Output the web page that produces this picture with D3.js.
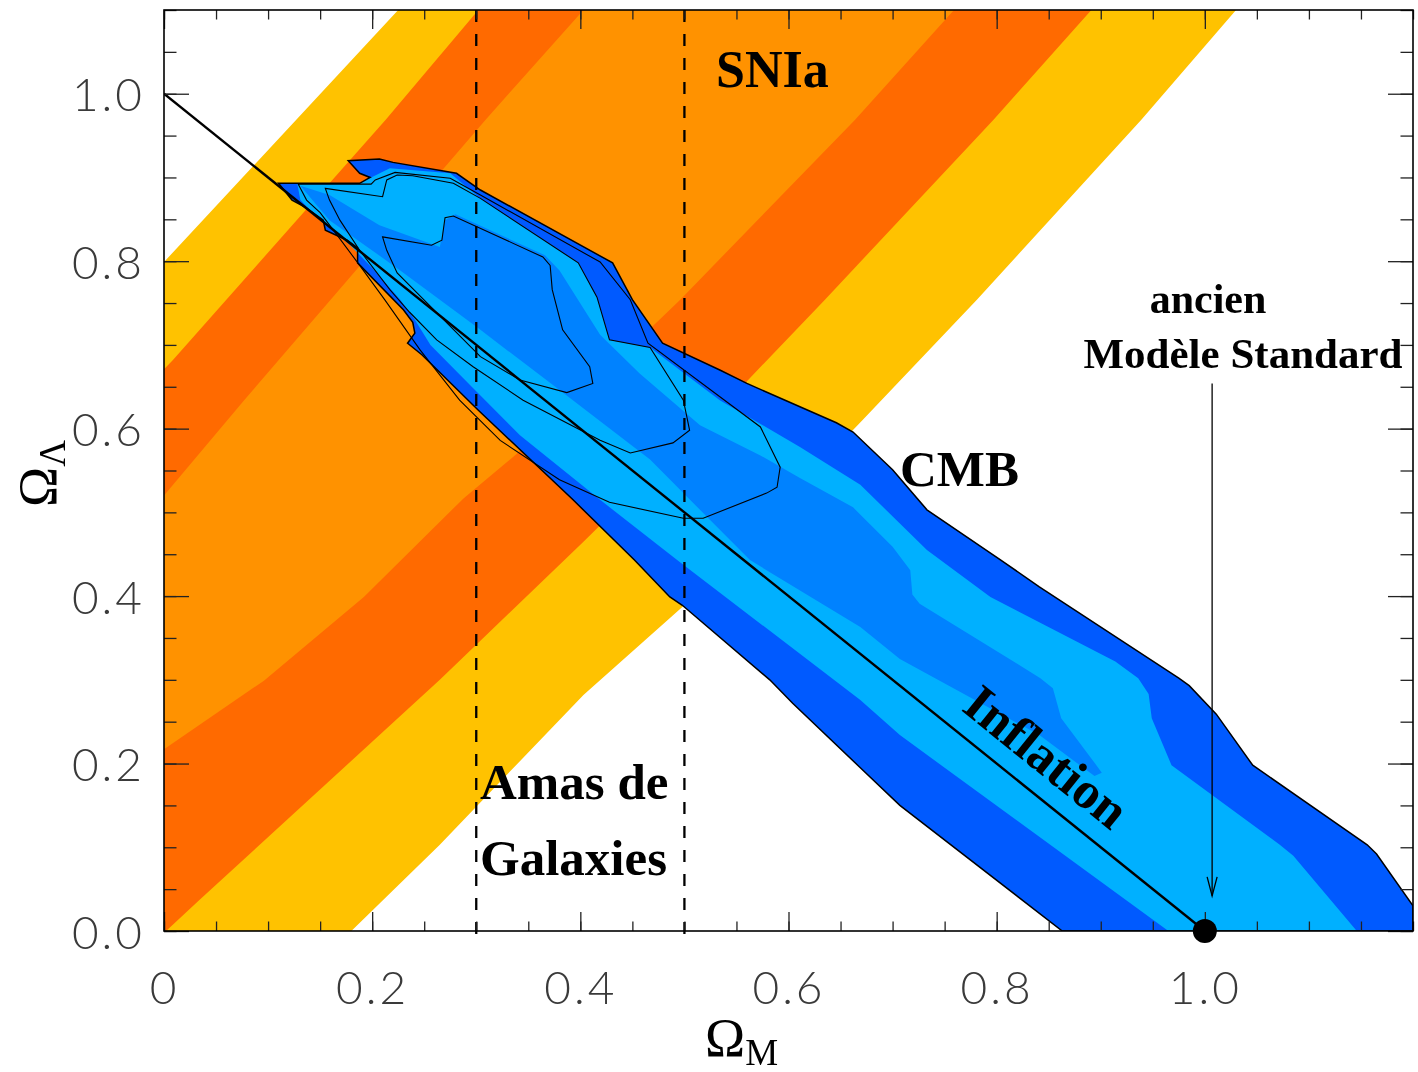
<!DOCTYPE html>
<html><head><meta charset="utf-8">
<script src="https://cdn.jsdelivr.net/npm/d3@7"></script>
<style>body{margin:0;background:#fff}svg{display:block}.lbl{will-change:transform}</style>
</head><body>
<svg id="c" width="1418" height="1072"></svg>
<script>
// ---- ticks ----
const xTicks = [0, 0.2, 0.4, 0.6, 0.8, 1.0];
const xTickLabels = ["0", "0.2", "0.4", "0.6", "0.8", "1.0"];
const yTicks = [0, 0.2, 0.4, 0.6, 0.8, 1.0];
const yTickLabels = ["0.0", "0.2", "0.4", "0.6", "0.8", "1.0"];
const xMinor = d3.range(0, 1.2001, 0.05);
const yMinor = d3.range(0, 1.1001, 0.05);

// ---- SNIa band boundaries (Omega_M, Omega_Lambda) ----
const snB1 = [[0,0.799],[0.225,1.1]];
const snB2 = [[0,0.671],[0.0086,0.682],[0.213,0.969],[0.302,1.1]];
const snB3 = [[0,0.520],[0.077,0.634],[0.309,0.969],[0.403,1.1]];
const snB4 = [[0,0.217],[0.096,0.299],[0.192,0.399],[0.288,0.517],[0.339,0.570],[0.476,0.730],[0.496,0.754],[0.664,0.969],[0.759,1.1]];
const snB5 = [[0.002,0],[0.034,0.037],[0.265,0.300],[0.301,0.343],[0.403,0.465],[0.558,0.654],[0.635,0.754],[0.797,0.969],[0.891,1.1]];
const snB6 = [[0.180,0],[0.265,0.103],[0.403,0.282],[0.498,0.387],[0.671,0.610],[0.781,0.754],[0.939,0.969],[1.030,1.1]];

// ---- CMB filled contours ----
const cmbOuter = [[0.110,0.893],[0.188,0.893],[0.198,0.900],[0.188,0.905],[0.177,0.920],[0.207,0.922],[0.220,0.918],[0.281,0.905],[0.304,0.885],[0.431,0.798],[0.450,0.754],[0.479,0.702],[0.534,0.670],[0.560,0.654],[0.646,0.607],[0.662,0.596],[0.700,0.551],[0.733,0.503],[0.804,0.443],[0.841,0.411],[0.975,0.302],[0.985,0.293],[1.011,0.259],[1.046,0.198],[1.156,0.103],[1.165,0.092],[1.2,0.030],[1.2,0],[0.863,0],[0.707,0.150],[0.669,0.195],[0.604,0.272],[0.582,0.300],[0.498,0.389],[0.486,0.399],[0.452,0.443],[0.393,0.515],[0.302,0.622],[0.248,0.688],[0.234,0.702],[0.241,0.714],[0.239,0.727],[0.230,0.742],[0.186,0.798],[0.186,0.816],[0.176,0.825],[0.155,0.837],[0.153,0.849],[0.135,0.865],[0.123,0.873]];
const cmbMiddle = [[0.128,0.893],[0.188,0.893],[0.199,0.900],[0.217,0.911],[0.275,0.905],[0.304,0.875],[0.398,0.798],[0.416,0.757],[0.428,0.706],[0.467,0.697],[0.534,0.634],[0.611,0.578],[0.669,0.533],[0.733,0.455],[0.794,0.399],[0.914,0.322],[0.936,0.302],[0.946,0.283],[0.949,0.254],[0.968,0.198],[1.072,0.103],[1.085,0.090],[1.146,0],[0.965,0],[0.707,0.234],[0.669,0.276],[0.493,0.443],[0.419,0.515],[0.342,0.592],[0.294,0.652],[0.256,0.700],[0.241,0.730],[0.227,0.754],[0.200,0.792],[0.179,0.819],[0.150,0.849],[0.131,0.873]];
const cmbInner = [[0.131,0.890],[0.159,0.879],[0.207,0.843],[0.265,0.817],[0.270,0.849],[0.280,0.856],[0.366,0.807],[0.380,0.789],[0.419,0.712],[0.457,0.666],[0.515,0.604],[0.573,0.568],[0.611,0.541],[0.662,0.506],[0.700,0.459],[0.717,0.431],[0.719,0.402],[0.726,0.391],[0.842,0.302],[0.854,0.290],[0.862,0.254],[0.897,0.196],[0.901,0.189],[0.894,0.185],[0.841,0.234],[0.707,0.325],[0.669,0.363],[0.563,0.443],[0.467,0.563],[0.380,0.646],[0.304,0.718],[0.227,0.789],[0.159,0.849]];

// ---- combined-likelihood line contours ----
const lineC1 = [[0.210,0.829],[0.257,0.819],[0.267,0.825],[0.270,0.852],[0.278,0.854],[0.364,0.805],[0.371,0.795],[0.373,0.766],[0.383,0.718],[0.409,0.674],[0.412,0.654],[0.387,0.643],[0.342,0.658],[0.304,0.686],[0.224,0.786],[0.214,0.813]];
const lineC2 = [[0.155,0.887],[0.210,0.877],[0.214,0.897],[0.224,0.903],[0.239,0.902],[0.278,0.893],[0.304,0.875],[0.398,0.798],[0.416,0.757],[0.428,0.706],[0.467,0.697],[0.499,0.634],[0.505,0.598],[0.489,0.583],[0.448,0.571],[0.419,0.586],[0.345,0.634],[0.297,0.674],[0.262,0.706],[0.236,0.739],[0.217,0.766],[0.188,0.813],[0.169,0.849],[0.159,0.873]];
const lineC3 = [[0.129,0.892],[0.137,0.873],[0.150,0.858],[0.164,0.835],[0.188,0.795],[0.212,0.754],[0.246,0.694],[0.284,0.634],[0.323,0.586],[0.380,0.539],[0.428,0.512],[0.499,0.493],[0.518,0.493],[0.579,0.523],[0.589,0.530],[0.592,0.554],[0.573,0.602],[0.465,0.702],[0.448,0.754],[0.419,0.799],[0.304,0.879],[0.275,0.899],[0.222,0.906],[0.203,0.897],[0.199,0.892]];

// ---- reference lines / points ----
const inflationLine = [[0,1],[1,0]];
const clusterBounds = [0.3, 0.5];
const oldStandard = [1.0, 0.0];
const arrowX = 1.007, arrowTop = 0.654, arrowTip = 0.042;

// ---- scales ----
const x = d3.scaleLinear().domain([0, 1.2]).range([164, 1413]);
const y = d3.scaleLinear().domain([0, 1.1]).range([931, 10]);
const svg = d3.select("#c");

svg.append("defs").append("clipPath").attr("id", "plot")
  .append("rect").attr("x", x(0)).attr("y", y(1.1))
  .attr("width", x(1.2) - x(0)).attr("height", y(0) - y(1.1));

const g = svg.append("g").attr("clip-path", "url(#plot)");
const line = d3.line().x(d => x(d[0])).y(d => y(d[1]));
const closed = pts => line(pts) + "Z";

const YELLOW = "#FFC200", DORANGE = "#FF6A00", ORANGE = "#FF9200";
const BLUE1 = "#005AFF", BLUE2 = "#00B0FF", BLUE3 = "#0082FF";

// SNIa bands
g.append("path").attr("d", closed(snB1.concat(snB6.slice().reverse(), [[0,0]]))).attr("fill", YELLOW);
g.append("path").attr("d", closed(snB2.concat(snB5.slice().reverse(), [[0,0]]))).attr("fill", DORANGE);
g.append("path").attr("d", closed(snB3.concat(snB4.slice().reverse()))).attr("fill", ORANGE);

// CMB
g.append("path").attr("d", closed(cmbOuter)).attr("fill", BLUE1);
g.append("path").attr("d", closed(cmbMiddle)).attr("fill", BLUE2);
g.append("path").attr("d", closed(cmbInner)).attr("fill", BLUE3);
g.append("path").attr("d", closed(cmbOuter)).attr("fill", "none").attr("stroke", "#000").attr("stroke-width", 1.5);
[lineC1, lineC2, lineC3].forEach(c =>
  g.append("path").attr("d", closed(c)).attr("fill", "none").attr("stroke", "#000").attr("stroke-width", 1.1));

// Inflation line
g.append("path").attr("d", line(inflationLine)).attr("stroke", "#000").attr("stroke-width", 2.4).attr("fill", "none");

// cluster dashed lines
clusterBounds.forEach(v => svg.append("line")
  .attr("x1", x(v)).attr("x2", x(v)).attr("y1", y(1.1)).attr("y2", y(0) + 9)
  .attr("stroke", "#000").attr("stroke-width", 2.3).attr("stroke-dasharray", "12,12"));

// axes (ticks inward on all four sides)
const tickStyle = sel => {
  sel.select(".domain").remove();
  sel.selectAll(".tick line").attr("stroke", "#222").attr("stroke-width", 1.3);
};
const lblFont = "Lato, 'DejaVu Sans', sans-serif";
const xb = svg.append("g").attr("class", "lbl").attr("transform", `translate(0,${y(0)})`)
  .call(d3.axisBottom(x).tickValues(xTicks).tickSizeInner(-19).tickSizeOuter(0).tickPadding(40)
    .tickFormat((d, i) => xTickLabels[i]));
xb.call(tickStyle);
xb.selectAll("text").attr("font-family", lblFont).attr("font-weight", 300).attr("font-size", 46)
  .attr("fill", "#3a3a3a").attr("letter-spacing", 3).attr("dy", "0.71em");
svg.append("g").attr("transform", `translate(0,${y(0)})`)
  .call(d3.axisBottom(x).tickValues(xMinor).tickSizeInner(-9.5).tickSizeOuter(0).tickFormat("")).call(tickStyle);
svg.append("g").attr("transform", `translate(0,${y(1.1)})`)
  .call(d3.axisTop(x).tickValues(xTicks).tickSizeInner(-19).tickSizeOuter(0).tickFormat("")).call(tickStyle);
svg.append("g").attr("transform", `translate(0,${y(1.1)})`)
  .call(d3.axisTop(x).tickValues(xMinor).tickSizeInner(-9.5).tickSizeOuter(0).tickFormat("")).call(tickStyle);

const yl = svg.append("g").attr("class", "lbl").attr("transform", `translate(${x(0)},0)`)
  .call(d3.axisLeft(y).tickValues(yTicks).tickSizeInner(-25).tickSizeOuter(0).tickPadding(19)
    .tickFormat((d, i) => yTickLabels[i]));
yl.call(tickStyle);
yl.selectAll("text").attr("font-family", lblFont).attr("font-weight", 300).attr("font-size", 46)
  .attr("fill", "#3a3a3a").attr("letter-spacing", 3).attr("dy", "0.37em");
svg.append("g").attr("transform", `translate(${x(0)},0)`)
  .call(d3.axisLeft(y).tickValues(yMinor).tickSizeInner(-12.5).tickSizeOuter(0).tickFormat("")).call(tickStyle);
svg.append("g").attr("transform", `translate(${x(1.2)},0)`)
  .call(d3.axisRight(y).tickValues(yTicks).tickSizeInner(-25).tickSizeOuter(0).tickFormat("")).call(tickStyle);
svg.append("g").attr("transform", `translate(${x(1.2)},0)`)
  .call(d3.axisRight(y).tickValues(yMinor).tickSizeInner(-12.5).tickSizeOuter(0).tickFormat("")).call(tickStyle);

// frame
svg.append("rect").attr("x", x(0)).attr("y", y(1.1)).attr("width", x(1.2) - x(0)).attr("height", y(0) - y(1.1))
  .attr("fill", "none").attr("stroke", "#000").attr("stroke-width", 1.6);

// arrow + old standard model point
svg.append("line").attr("x1", x(arrowX)).attr("x2", x(arrowX)).attr("y1", y(arrowTop)).attr("y2", y(arrowTip))
  .attr("stroke", "#000").attr("stroke-width", 1.3);
svg.append("path").attr("d", `M${x(arrowX) - 5},${y(arrowTip) - 19}L${x(arrowX)},${y(arrowTip)}L${x(arrowX) + 5},${y(arrowTip) - 19}`)
  .attr("fill", "none").attr("stroke", "#000").attr("stroke-width", 1.3);
svg.append("circle").attr("cx", x(oldStandard[0])).attr("cy", y(oldStandard[1])).attr("r", 12).attr("fill", "#000");

// labels
const serif = "'Liberation Serif', 'Times New Roman', Times, serif";
const lab = (txt, px, py, size, anchor) => svg.append("text").attr("x", px).attr("y", py)
  .attr("font-family", serif).attr("font-weight", "bold").attr("font-size", size)
  .attr("text-anchor", anchor || "start").attr("fill", "#000").text(txt);
lab("SNIa", 716, 87, 52);
lab("CMB", 900, 486, 51);
lab("Amas de", 480, 799, 51);
lab("Galaxies", 480, 875, 51);
lab("ancien", 1208, 313, 42, "middle");
lab("Modèle Standard", 1243, 368, 43, "middle");

// Inflation label along the line
const ang = Math.atan2(y(0) - y(1), x(1) - x(0)) * 180 / Math.PI;
const t0 = 0.826;
const px0 = x(t0), py0 = y(1 - t0);
const rad = ang * Math.PI / 180;
const off = 19;
svg.append("text").attr("transform", `translate(${px0 + Math.sin(rad) * off},${py0 - Math.cos(rad) * off}) rotate(${ang})`)
  .attr("font-family", serif).attr("font-weight", "bold").attr("font-size", 52)
  .attr("text-anchor", "middle").text("Inflation");

// axis titles
const xt = svg.append("text").attr("x", 705).attr("y", 1056).attr("font-family", serif).attr("font-size", 54);
xt.append("tspan").text("Ω");
xt.append("tspan").attr("font-size", 37).attr("dy", 9).text("M");
const yt = svg.append("text").attr("transform", "translate(56,507) rotate(-90)").attr("font-family", serif).attr("font-size", 54);
yt.append("tspan").text("Ω");
yt.append("tspan").attr("font-size", 37).attr("dy", 9).text("Λ");
</script>
</body></html>
